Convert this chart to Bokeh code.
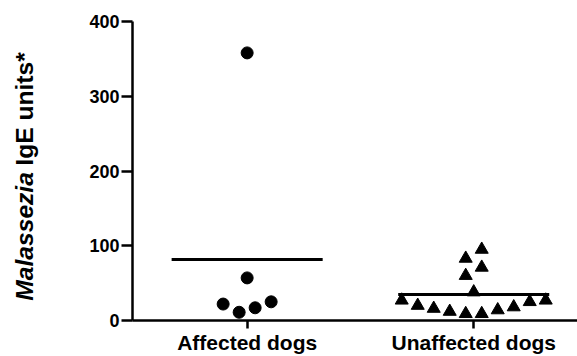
import numpy as np
from bokeh.plotting import figure
from bokeh.layouts import row
from bokeh.models import Range1d, FixedTicker
from bokeh.core.properties import value
from bokeh.embed import file_html
from bokeh.resources import INLINE

# ---------------- data ----------------
groups = ["Affected dogs", "Unaffected dogs"]
affected = [358, 57, 22, 11, 17, 25]
unaffected = [95, 71, 60, 83, 38, 27, 20, 16, 12, 9, 9, 14, 18, 25, 27]
y_ticks = [0, 100, 200, 300, 400]
y_title_italic = "Malassezia"
y_title_rest = "IgE units*"

# ---------------- layout / style ----------------
TOTAL_W, H = 577, 356
TW = 40                      # width of the y-title strip
W = TOTAL_W - TW
BL, BR, BT, BB = 132 - TW, 0, 21, 34
FRAME_W = W - BL - BR
FRAME_H = H - BT - BB
X0, X1 = 0.494, 2.458
Y0, Y1 = 0, 400
FONT = "Liberation Sans"
TITLE_SIZE = 24.6

px_per_x = FRAME_W / (X1 - X0)
px_per_y = FRAME_H / (Y1 - Y0)


def spread(values, row_px=14.0, step_px=16.0):
    """Prism-like scatter spread: rows of close values, alternating left/right."""
    vals = np.asarray(values, dtype=float)
    order = np.argsort(vals, kind="stable")
    row_span = row_px / px_per_y
    rows = []
    for i in order:
        if rows and vals[i] - vals[rows[-1][0]] <= row_span:
            rows[-1].append(i)
        else:
            rows.append([i])
    offs = np.zeros(len(vals))
    for r in rows:
        n = len(r)
        for k, idx in enumerate(r):
            if n % 2 == 0:
                slot = (k // 2 + 0.5) * (-1 if k % 2 == 0 else 1)
            else:
                slot = ((k + 1) // 2) * (-1 if k % 2 == 1 else 1)
            offs[idx] = slot * step_px / px_per_x
    return offs


positions = [1, 2]
ax = positions[0] + spread(affected)
ux = positions[1] + spread(unaffected)

p = figure(width=W, height=H, output_backend="svg", toolbar_location=None,
           x_range=Range1d(X0, X1), y_range=Range1d(Y0, Y1),
           min_border_left=BL, min_border_right=BR,
           min_border_top=BT, min_border_bottom=BB)
p.outline_line_color = None
p.grid.visible = False
p.background_fill_color = "white"
p.border_fill_color = "white"

# markers
p.scatter(ax, affected, marker="circle", size=12, fill_color="black", line_color="black")
p.scatter(ux, unaffected, marker="triangle", size=13, fill_color="black", line_color="black")

# mean lines
means = [float(np.mean(affected)), float(np.mean(unaffected))]
half = 1 / 3
p.segment(x0=[x - half for x in positions], y0=means,
          x1=[x + half for x in positions], y1=means,
          line_color="black", line_width=3)

# axes
for axis in (p.xaxis[0], p.yaxis[0]):
    axis.axis_line_width = 2.5
    axis.axis_line_color = "black"
    axis.major_tick_line_width = 2.5
    axis.major_tick_line_color = "black"
    axis.minor_tick_line_color = None
    axis.major_tick_in = 0
    axis.major_label_text_font = FONT
    axis.major_label_text_font_style = "bold"
    axis.major_label_text_color = "black"

p.xaxis.ticker = FixedTicker(ticks=positions)
p.xaxis.major_label_overrides = {pos: g for pos, g in zip(positions, groups)}
p.xaxis.major_tick_out = 8
p.xaxis.major_label_text_font_size = "21px"
p.xaxis.major_label_standoff = 2

p.yaxis.ticker = FixedTicker(ticks=y_ticks)
p.yaxis.major_tick_out = 11
p.yaxis.major_label_text_font_size = "18px"
p.yaxis.major_label_standoff = 2

# ---------------- y title strip (mixed italic / bold) ----------------
# Its frame is aligned with the main frame by the row layout, so it shares
# the main y range.
t = figure(width=TW, height=H, output_backend="svg", toolbar_location=None,
           x_range=Range1d(0, TW), y_range=Range1d(Y0, Y1),
           x_axis_type=None, y_axis_type=None,
           min_border_left=0, min_border_right=0, min_border_top=BT, min_border_bottom=BB)
t.outline_line_color = None
t.grid.visible = False
t.background_fill_color = "white"
t.border_fill_color = "white"

col_x = 24
frame_bottom_page = BT + FRAME_H
bottom_end = (frame_bottom_page - 302) / px_per_y   # where "Malassezia" starts
top_end = (frame_bottom_page - 52) / px_per_y       # where "IgE units*" ends
common = dict(angle=np.pi / 2, text_font=value(FONT),
              text_font_size=f"{TITLE_SIZE}px", text_color="black",
              text_baseline="middle")
t.text(x=[col_x], y=[bottom_end], text=[y_title_italic], text_font_style="bold italic",
       text_align="left", **common)
t.text(x=[col_x], y=[top_end], text=[y_title_rest], text_font_style="bold",
       text_align="right", **common)

layout = row(t, p)
open("out.html", "w").write(file_html(layout, INLINE))
